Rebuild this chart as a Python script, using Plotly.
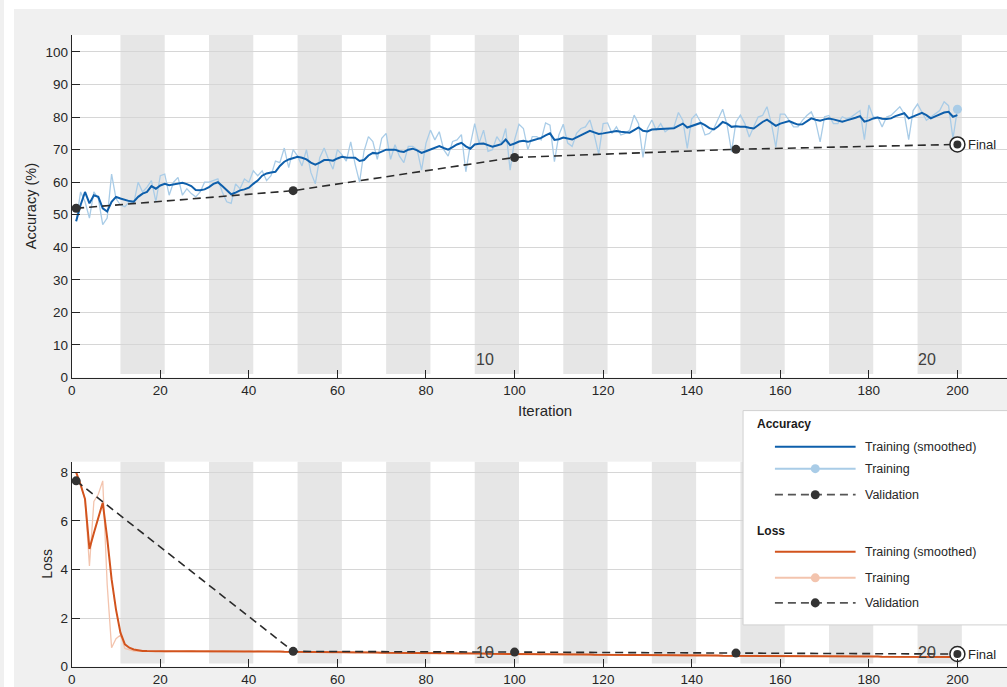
import plotly.graph_objects as go

W = 1007
REF_H = 687
H = 696  # rendered page is slightly taller than the photo; compensate vertically
iterations = list(range(1, 201))

acc_smooth = [
    48, 53, 57, 53.5, 56, 55.5, 52, 51, 54, 55.5,
    55, 54.5, 54.2, 54, 55.5, 56.5, 57, 58.8, 58, 59,
    59.5, 59.1, 59.3, 59.6, 59.8, 59.4, 58.8, 57.6, 57.5, 57.8,
    58.5, 59.5, 60, 58.8, 57.5, 56.3, 56.8, 57.5, 57.8, 58.3,
    59.5, 60.5, 62, 62.7, 63, 63.2, 65, 66.3, 67, 67.5,
    67.8, 67.5, 67, 66, 65.4, 66, 66.8, 66.8, 66.6, 67.3,
    67.8, 67.6, 67.6, 67.5, 66.5, 66.8, 68.2, 69, 68.8, 69.5,
    70, 70, 70, 69.5, 69.3, 70, 70.3, 69.8, 69, 69.5,
    70, 70.6, 71.1, 70.5, 70, 70.8, 71.6, 72.1, 71, 70.3,
    71.6, 71.8, 71.9, 71.4, 70.9, 71.3, 71.7, 73.1, 71.4, 71.9,
    72.5, 72.7, 72.4, 72.8, 73.1, 73.6, 74.4, 75, 73, 73.2,
    73.7, 73.5, 73.1, 73.8, 74.5, 75.2, 75.8, 75.3, 74.8, 75,
    75.2, 75.4, 75.7, 75.5, 75.3, 75.2, 76, 76.8, 75.8, 75.6,
    76.2, 76.3, 76.5, 76.5, 76.5, 76.6, 77.3, 78, 76.8, 77.3,
    77.8, 78.2, 77.5, 76.6, 76.2, 77.2, 78.5, 78, 77, 77.2,
    77, 77, 76.7, 76.5, 77.5, 78.5, 79.2, 78.3, 77.3, 78,
    78.5, 78.8, 78.2, 77.7, 77.8, 78.7, 79.6, 79.2, 78.9, 79.3,
    79.6, 79.3, 79, 78.6, 79, 79.3, 79.8, 80.3, 78.6, 79,
    79.6, 79.9, 79.5, 79.4, 79.6, 80.3, 80.8, 81.2, 79.6, 80.2,
    80.8, 81.3, 80.6, 79.6, 80.2, 80.8, 81.4, 81.6, 80.1, 80.6,
]

acc_raw = [
    48, 57, 54, 49, 57, 55, 47, 49, 62.5, 55,
    53, 52.5, 54, 53.5, 60, 57, 58.5, 60.5, 54, 62,
    62.5, 56, 60, 61.5, 56, 58, 56.5, 55.5, 57, 60,
    60, 60.5, 61, 57, 54, 53.5, 59.5, 58, 61, 60,
    63.5, 62, 63.5, 60.5, 62, 66.5, 66, 70.5, 64.5, 70,
    68, 65, 70, 63, 59.5, 67.5, 70.5, 67, 64, 70,
    68.5, 66.5, 72.4, 65.5, 60, 69.5, 74, 72.5, 67, 73.5,
    75, 67, 71.5, 68, 66, 71, 71, 70, 63.7, 72,
    76, 73, 75.5, 70, 68, 72.5, 73, 74.6, 63.2, 71.5,
    78, 72, 76, 69.5, 70, 74, 72, 76.5, 63.7, 73,
    77.8, 76.5, 70, 74, 74, 73, 78.2, 77.5, 66.3, 74.5,
    77.8, 72, 71, 75, 76.5, 77, 79.1, 74.5, 68.6, 78,
    78.2, 75, 77, 74.5, 75, 76, 80.6, 78, 67.6, 76.5,
    79.1, 76, 78, 75.5, 76.5, 77, 81.4, 79, 70.4, 79.5,
    80.9, 78.5, 74.5, 75, 76.5, 79.5, 82.4, 77.5, 69.4, 78.5,
    80.6, 78, 73.9, 77, 80, 80.5, 83.2, 78, 70.8, 80.9,
    80.9, 79, 77, 77, 79, 80.5, 81.6, 78.5, 72.4, 80.1,
    80.5, 78, 78, 80.1, 79.5, 80, 81, 82, 73.1, 83.7,
    80, 80, 77, 80, 80.5, 82, 83.2, 81, 73.1, 82,
    84, 81.5, 79, 80, 81, 82, 84.7, 83.5, 73.4, 82.4,
]

loss_smooth = [
    8.0, 7.5, 6.9, 4.85, 5.5, 6.1, 6.75, 5.3, 3.6, 2.35,
    1.4, 0.92, 0.78, 0.71, 0.67, 0.65, 0.64, 0.63, 0.63, 0.63,
    0.63, 0.63, 0.63, 0.63, 0.64, 0.64, 0.65, 0.65, 0.64, 0.64,
    0.64, 0.64, 0.64, 0.65, 0.65, 0.65, 0.64, 0.64, 0.63, 0.63,
    0.63, 0.63, 0.63, 0.62, 0.62, 0.62, 0.62, 0.61, 0.61, 0.61,
    0.61, 0.61, 0.60, 0.60, 0.60, 0.60, 0.60, 0.60, 0.59, 0.59,
    0.59, 0.59, 0.59, 0.58, 0.58, 0.58, 0.58, 0.58, 0.58, 0.57,
    0.57, 0.57, 0.57, 0.57, 0.57, 0.56, 0.56, 0.56, 0.56, 0.56,
    0.56, 0.55, 0.55, 0.55, 0.55, 0.55, 0.55, 0.54, 0.54, 0.54,
    0.54, 0.54, 0.54, 0.53, 0.53, 0.53, 0.53, 0.53, 0.53, 0.52,
    0.52, 0.52, 0.52, 0.52, 0.52, 0.51, 0.51, 0.51, 0.51, 0.51,
    0.51, 0.50, 0.50, 0.50, 0.50, 0.50, 0.50, 0.49, 0.49, 0.49,
    0.49, 0.49, 0.49, 0.49, 0.48, 0.48, 0.48, 0.48, 0.48, 0.48,
    0.48, 0.47, 0.47, 0.47, 0.47, 0.47, 0.47, 0.47, 0.46, 0.46,
    0.46, 0.46, 0.46, 0.46, 0.46, 0.46, 0.45, 0.45, 0.45, 0.45,
    0.45, 0.45, 0.45, 0.45, 0.45, 0.44, 0.44, 0.44, 0.44, 0.44,
    0.44, 0.44, 0.44, 0.44, 0.43, 0.43, 0.43, 0.43, 0.43, 0.43,
    0.43, 0.43, 0.43, 0.42, 0.42, 0.42, 0.42, 0.42, 0.42, 0.42,
    0.42, 0.42, 0.41, 0.41, 0.41, 0.41, 0.41, 0.41, 0.41, 0.41,
    0.41, 0.40, 0.40, 0.40, 0.40, 0.40, 0.40, 0.40, 0.40, 0.40,
]

loss_raw = [
    8.0, 7.4, 6.9, 4.15, 6.8, 7.1, 7.65, 3.4, 0.78, 1.15,
    1.3, 0.75, 0.68, 0.64, 0.63, 0.64, 0.62, 0.63, 0.62, 0.64,
    0.62, 0.64, 0.63, 0.63, 0.65, 0.64, 0.66, 0.65, 0.63, 0.64,
    0.65, 0.63, 0.64, 0.66, 0.65, 0.66, 0.63, 0.64, 0.62, 0.64,
    0.62, 0.64, 0.63, 0.61, 0.63, 0.62, 0.61, 0.61, 0.60, 0.62,
    0.60, 0.62, 0.59, 0.61, 0.60, 0.59, 0.61, 0.60, 0.58, 0.60,
    0.59, 0.58, 0.60, 0.57, 0.59, 0.58, 0.57, 0.59, 0.57, 0.58,
    0.56, 0.58, 0.57, 0.56, 0.58, 0.55, 0.57, 0.56, 0.55, 0.57,
    0.55, 0.56, 0.54, 0.56, 0.55, 0.54, 0.56, 0.53, 0.55, 0.54,
    0.53, 0.55, 0.54, 0.52, 0.54, 0.53, 0.52, 0.54, 0.52, 0.53,
    0.51, 0.53, 0.52, 0.51, 0.53, 0.50, 0.52, 0.51, 0.50, 0.52,
    0.50, 0.51, 0.49, 0.51, 0.50, 0.49, 0.51, 0.48, 0.50, 0.49,
    0.48, 0.50, 0.49, 0.48, 0.49, 0.47, 0.49, 0.48, 0.47, 0.49,
    0.47, 0.48, 0.46, 0.48, 0.47, 0.46, 0.48, 0.47, 0.45, 0.47,
    0.45, 0.47, 0.46, 0.45, 0.47, 0.45, 0.46, 0.44, 0.46, 0.45,
    0.44, 0.46, 0.45, 0.44, 0.46, 0.43, 0.45, 0.44, 0.43, 0.45,
    0.43, 0.45, 0.44, 0.43, 0.44, 0.42, 0.44, 0.43, 0.42, 0.44,
    0.42, 0.44, 0.43, 0.41, 0.43, 0.42, 0.41, 0.43, 0.41, 0.43,
    0.41, 0.43, 0.40, 0.42, 0.41, 0.40, 0.42, 0.40, 0.41, 0.42,
    0.40, 0.41, 0.39, 0.41, 0.40, 0.39, 0.41, 0.39, 0.40, 0.41,
]

val_iter = [1, 50, 100, 150, 200]
val_acc = [52.0, 57.4, 67.6, 70.1, 71.6]
val_loss = [7.65, 0.63, 0.6, 0.56, 0.52]

epoch_band_starts = [11, 31, 51, 71, 91, 111, 131, 151, 171, 191]
epoch_band_width = 10
epoch_labels = ["10", "20"]
epoch_label_x = [93.4, 193.2]

acc_ticks = list(range(0, 101, 10))
loss_ticks = [0, 2, 4, 6, 8]
iter_ticks = list(range(0, 201, 20))

BLUE = "#0e5fab"
LBLUE = "#a9cce7"
ORANGE = "#d2531d"
LORANGE = "#f3c4ae"
DARK = "#262626"
VALC = "#2b2b2b"
FONT = "Liberation Sans, Arial, Helvetica, sans-serif"


def px(x):
    return x / W


def py(y):
    # y given in reference-photo pixels
    return 1 - y / REF_H


fig = go.Figure()

# Accuracy panel
fig.add_trace(go.Scatter(x=iterations, y=acc_raw, mode="lines",
                         line=dict(color=LBLUE, width=1.3), xaxis="x", yaxis="y"))
fig.add_trace(go.Scatter(x=iterations, y=acc_smooth, mode="lines",
                         line=dict(color=BLUE, width=2), xaxis="x", yaxis="y"))
fig.add_trace(go.Scatter(x=iterations[-1:], y=acc_raw[-1:], mode="markers",
                         marker=dict(color=LBLUE, size=9), xaxis="x", yaxis="y"))
fig.add_trace(go.Scatter(x=val_iter, y=val_acc, mode="lines+markers",
                         line=dict(color=VALC, width=1.6, dash="8px,5px"),
                         marker=dict(color="#333333", size=9), xaxis="x", yaxis="y"))
fig.add_trace(go.Scatter(x=val_iter[-1:], y=val_acc[-1:], mode="markers",
                         marker=dict(color="white", size=15, line=dict(color=DARK, width=1.5)),
                         xaxis="x", yaxis="y"))
fig.add_trace(go.Scatter(x=val_iter[-1:], y=val_acc[-1:], mode="markers",
                         marker=dict(color="#333333", size=8), xaxis="x", yaxis="y"))

# Loss panel
fig.add_trace(go.Scatter(x=iterations, y=loss_raw, mode="lines",
                         line=dict(color=LORANGE, width=1.3), xaxis="x2", yaxis="y2"))
fig.add_trace(go.Scatter(x=iterations, y=loss_smooth, mode="lines",
                         line=dict(color=ORANGE, width=2), xaxis="x2", yaxis="y2"))
fig.add_trace(go.Scatter(x=val_iter, y=val_loss, mode="lines+markers",
                         line=dict(color=VALC, width=1.6, dash="8px,5px"),
                         marker=dict(color="#333333", size=9), xaxis="x2", yaxis="y2"))
fig.add_trace(go.Scatter(x=val_iter[-1:], y=val_loss[-1:], mode="markers",
                         marker=dict(color="white", size=15, line=dict(color=DARK, width=1.5)),
                         xaxis="x2", yaxis="y2"))
fig.add_trace(go.Scatter(x=val_iter[-1:], y=val_loss[-1:], mode="markers",
                         marker=dict(color="#333333", size=8), xaxis="x2", yaxis="y2"))

shapes = []
# thin white strip along top/left edges of the gray panel
shapes.append(dict(type="rect", xref="paper", yref="paper", x0=0, x1=1, y0=py(9), y1=1,
                   fillcolor="white", line=dict(width=0), layer="below"))
shapes.append(dict(type="rect", xref="paper", yref="paper", x0=0, x1=px(10), y0=0, y1=1,
                   fillcolor="white", line=dict(width=0), layer="below"))
# epoch bands
for s in epoch_band_starts:
    shapes.append(dict(type="rect", xref="x", yref="y domain", x0=s, x1=s + epoch_band_width,
                       y0=0.01, y1=1, fillcolor="#e6e6e6", line=dict(width=0), layer="below"))
    shapes.append(dict(type="rect", xref="x2", yref="y2 domain", x0=s, x1=s + epoch_band_width,
                       y0=0.015, y1=1, fillcolor="#e6e6e6", line=dict(width=0), layer="below"))

# legend box
LX0, LX1, LY0, LY1 = 742, 1007, 410, 624
shapes.append(dict(type="rect", xref="paper", yref="paper", x0=px(LX0), x1=px(LX1 + 3),
                   y0=py(LY1), y1=py(LY0), fillcolor="white", line=dict(color="#d0d0d0", width=1),
                   layer="above"))

legend_rows = [
    (446, BLUE, "solid", False, "Training (smoothed)"),
    (468, LBLUE, "solid", True, "Training"),
    (494, "#555555", "dash", True, "Validation"),
    (551, ORANGE, "solid", False, "Training (smoothed)"),
    (577, LORANGE, "solid", True, "Training"),
    (602, "#555555", "dash", True, "Validation"),
]
annotations = []
for (yy, col, dash, mk, label) in legend_rows:
    shapes.append(dict(type="line", xref="paper", yref="paper", x0=px(774), x1=px(855),
                       y0=py(yy), y1=py(yy),
                       line=dict(color=col, width=2 if dash == "solid" else 1.8,
                                 dash="solid" if dash == "solid" else "8px,5px"),
                       layer="above"))
    if mk:
        mc = col if dash == "solid" else "#333333"
        shapes.append(dict(type="circle", xref="paper", yref="paper",
                           x0=px(814.5 - 4.5), x1=px(814.5 + 4.5), y0=py(yy + 4.5), y1=py(yy - 4.5),
                           fillcolor=mc, line=dict(color=mc, width=0), layer="above"))
    annotations.append(dict(xref="paper", yref="paper", x=px(862), y=py(yy), text=label,
                            showarrow=False, xanchor="left", yanchor="middle",
                            font=dict(size=12.5, color=DARK, family=FONT)))
annotations.append(dict(xref="paper", yref="paper", x=px(754), y=py(423), text="<b>Accuracy</b>",
                        showarrow=False, xanchor="left", yanchor="middle",
                        font=dict(size=12, color="#1a1a1a", family=FONT)))
annotations.append(dict(xref="paper", yref="paper", x=px(754), y=py(530), text="<b>Loss</b>",
                        showarrow=False, xanchor="left", yanchor="middle",
                        font=dict(size=12, color="#1a1a1a", family=FONT)))

# axis titles
annotations.append(dict(xref="paper", yref="paper", x=px(27), y=py(206), text="Accuracy (%)",
                        textangle=-90, showarrow=False, xanchor="center", yanchor="middle",
                        font=dict(size=14.5, color=DARK, family=FONT)))
annotations.append(dict(xref="paper", yref="paper", x=px(43), y=py(563), text="Loss",
                        textangle=-90, showarrow=False, xanchor="center", yanchor="middle",
                        font=dict(size=14, color=DARK, family=FONT)))
annotations.append(dict(xref="paper", yref="paper", x=px(543), y=py(410), text="Iteration",
                        showarrow=False, xanchor="center", yanchor="middle",
                        font=dict(size=15, color=DARK, family=FONT)))

# epoch labels
for lx, lt in zip(epoch_label_x, epoch_labels):
    annotations.append(dict(xref="x", yref="y domain", x=lx, y=0.053, text=lt, showarrow=False,
                            xanchor="center", yanchor="middle",
                            font=dict(size=16, color="#404040", family=FONT)))
    annotations.append(dict(xref="x2", yref="y2 domain", x=lx, y=0.067, text=lt, showarrow=False,
                            xanchor="center", yanchor="middle",
                            font=dict(size=16, color="#404040", family=FONT)))

# Final labels
annotations.append(dict(xref="x", yref="y", x=val_iter[-1], y=val_acc[-1], text="Final",
                        showarrow=False, xanchor="left", yanchor="middle", xshift=9,
                        font=dict(size=13, color=DARK, family=FONT)))
annotations.append(dict(xref="x2", yref="y2", x=val_iter[-1], y=val_loss[-1], text="Final",
                        showarrow=False, xanchor="left", yanchor="middle", xshift=9,
                        font=dict(size=13, color=DARK, family=FONT)))

x_left = px(68)
xaxis_common = dict(range=[0, 211.2], tickmode="array", tickvals=iter_ticks,
                    ticks="inside", ticklen=8, tickcolor=DARK, tickwidth=1,
                    showline=True, linecolor=DARK, linewidth=1, showgrid=False, zeroline=False,
                    tickfont=dict(size=13.5, color=DARK, family=FONT), domain=[x_left, 1])
yaxis_common = dict(ticks="inside", ticklen=8, tickcolor=DARK, tickwidth=1,
                    showline=True, linecolor=DARK, linewidth=1, showgrid=True,
                    gridcolor="#d6d6d6", gridwidth=1, zeroline=False,
                    tickfont=dict(size=13.5, color=DARK, family=FONT))

fig.update_layout(
    width=W, height=H,
    margin=dict(l=0, r=0, t=0, b=0),
    paper_bgcolor="#f0f0f0",
    plot_bgcolor="white",
    showlegend=False,
    xaxis=dict(**xaxis_common, anchor="y"),
    yaxis=dict(**yaxis_common, range=[0, 105.2], tickmode="array", tickvals=acc_ticks,
               domain=[py(377), py(35)], anchor="x"),
    xaxis2=dict(**xaxis_common, anchor="y2"),
    yaxis2=dict(**yaxis_common, range=[0, 8.44], tickmode="array", tickvals=loss_ticks,
                domain=[py(665.7), py(461)], anchor="x2"),
    shapes=shapes,
    annotations=annotations,
    font=dict(family=FONT),
)

page_fix = (
    "document.body.style.margin='0px';"
    "document.body.style.overflow='hidden';"
    "document.body.style.background='#f0f0f0';"
    "var d=document.getElementById('{plot_id}');"
    "d.style.position='fixed';d.style.left='0px';d.style.top='0px';"
)

fig.write_html("out.html", config={"displayModeBar": False}, post_script=page_fix)
